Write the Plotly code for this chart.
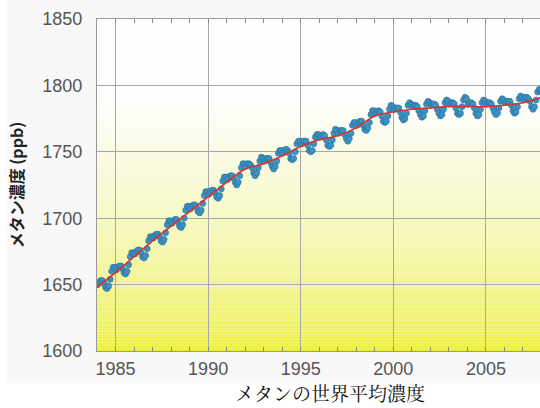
import plotly.graph_objects as go

# ---------------- data ----------------
years = list(range(1984, 2008))
months = list(range(1, 13))

ch4_monthly = {
    1984: [1650, 1652, 1653, 1653, 1651, 1648, 1647, 1649, 1654, 1660, 1663, 1663],
    1985: [1661, 1663, 1664, 1664, 1662, 1659, 1658, 1660, 1665, 1671, 1674, 1674],
    1986: [1673, 1675, 1676, 1676, 1674, 1671, 1670, 1672, 1677, 1683, 1686, 1686],
    1987: [1685, 1687, 1688, 1688, 1686, 1683, 1682, 1684, 1689, 1695, 1698, 1698],
    1988: [1696, 1698, 1699, 1699, 1697, 1694, 1693, 1695, 1700, 1706, 1709, 1709],
    1989: [1707, 1709, 1710, 1710, 1708, 1705, 1704, 1706, 1711, 1717, 1720, 1720],
    1990: [1718, 1720, 1721, 1721, 1719, 1716, 1715, 1717, 1722, 1728, 1731, 1731],
    1991: [1729, 1731, 1732, 1732, 1730, 1727, 1725, 1727, 1732, 1738, 1741, 1741],
    1992: [1739, 1741, 1741, 1740, 1738, 1734, 1732, 1734, 1738, 1743, 1746, 1745],
    1993: [1743, 1745, 1745, 1745, 1742, 1739, 1737, 1739, 1743, 1749, 1751, 1751],
    1994: [1749, 1751, 1752, 1751, 1749, 1745, 1744, 1745, 1750, 1756, 1758, 1758],
    1995: [1756, 1758, 1758, 1758, 1755, 1751, 1750, 1751, 1756, 1761, 1763, 1763],
    1996: [1761, 1762, 1763, 1762, 1759, 1755, 1754, 1755, 1759, 1764, 1767, 1766],
    1997: [1764, 1766, 1766, 1766, 1763, 1760, 1758, 1760, 1764, 1770, 1772, 1772],
    1998: [1770, 1772, 1773, 1773, 1770, 1767, 1766, 1768, 1772, 1778, 1781, 1781],
    1999: [1779, 1780, 1781, 1780, 1777, 1773, 1772, 1773, 1777, 1782, 1785, 1784],
    2000: [1782, 1783, 1783, 1783, 1780, 1776, 1774, 1775, 1779, 1785, 1787, 1786],
    2001: [1784, 1785, 1785, 1784, 1781, 1778, 1776, 1777, 1781, 1786, 1788, 1787],
    2002: [1785, 1786, 1786, 1785, 1782, 1779, 1777, 1778, 1782, 1787, 1789, 1788],
    2003: [1786, 1787, 1787, 1786, 1783, 1779, 1778, 1779, 1784, 1789, 1791, 1790],
    2004: [1786, 1787, 1787, 1786, 1783, 1779, 1777, 1778, 1782, 1787, 1789, 1788],
    2005: [1786, 1787, 1787, 1786, 1783, 1780, 1778, 1779, 1783, 1788, 1790, 1789],
    2006: [1787, 1788, 1788, 1788, 1785, 1781, 1779, 1780, 1784, 1790, 1792, 1791],
    2007: [1789, 1791, 1791, 1790, 1788, 1784, 1782, 1784, 1789, 1795, 1797, 1797],
}

trend_years = list(range(1984, 2009))
trend_values = [1648, 1659, 1671, 1683, 1694, 1705, 1716, 1727, 1737, 1741,
                1747, 1754, 1759, 1762, 1768, 1777, 1780, 1782, 1783, 1784,
                1784, 1784, 1785, 1787, 1791]

x_ticks = [1985, 1990, 1995, 2000, 2005]
x_tick_labels = ["1985", "1990", "1995", "2000", "2005"]
y_ticks = [1600, 1650, 1700, 1750, 1800, 1850]

y_title = "メタン濃度 (ppb)"
caption = "メタンの世界平均濃度"

# ---------------- build ----------------
mx, my = [], []
for yr in years:
    for m, v in zip(months, ch4_monthly[yr]):
        mx.append(yr + (m - 0.5) / 12)
        my.append(v)

fig = go.Figure()

fig.add_trace(go.Scatter(
    x=mx, y=my, mode="markers",
    marker=dict(size=6, color="#3a93c3", line=dict(width=0.6, color="#2b6f98")),
    hoverinfo="skip", showlegend=False,
))
fig.add_trace(go.Scatter(
    x=trend_years, y=trend_values, mode="lines",
    line=dict(color="#e0302a", width=1.6, shape="spline"),
    showlegend=False,
))

# figure background (light grey panel)
shapes = [dict(type="rect", xref="paper", yref="paper",
               x0=-0.205, x1=1.0, y0=-0.097, y1=1.06,
               fillcolor="#f8f8f8", line=dict(width=0), layer="below")]
# yellow -> white gradient in plot area
n = 90
lo, hi = 1600, 1790
for i in range(n):
    a = lo + (hi - lo) * i / n
    b = lo + (hi - lo) * (i + 1) / n
    t = ((a + b) / 2 - lo) / (hi - lo)
    r = int(238 + (254 - 238) * t ** 0.8)
    g = int(241 + (254 - 241) * t ** 0.8)
    bl = int(36 + (253 - 36) * t ** 0.5)
    shapes.append(dict(type="rect", xref="x domain", yref="y",
                       x0=0, x1=1, y0=a, y1=b,
                       fillcolor=f"rgb({r},{g},{bl})", line=dict(width=0), layer="below"))
shapes.append(dict(type="rect", xref="x domain", yref="y",
                   x0=0, x1=1, y0=hi, y1=1850,
                   fillcolor="#fefefd", line=dict(width=0), layer="below"))

fig.update_layout(
    width=540, height=408,
    margin=dict(l=97, r=0, t=19, b=57, autoexpand=False),
    paper_bgcolor="white", plot_bgcolor="white",
    shapes=shapes,
    font=dict(family="Liberation Sans, Arial, sans-serif", color="#555"),
    annotations=[dict(
        text=caption, xref="paper", yref="paper", x=0.526, y=-0.1717,
        xanchor="center", yanchor="bottom", showarrow=False,
        font=dict(family="Noto Serif CJK JP, Noto Sans CJK JP, serif", size=19, color="#111"),
    )],
)

fig.update_xaxes(
    range=[1984.0, 2007.92], automargin=False,
    tickvals=x_ticks, ticktext=x_tick_labels,
    tickfont=dict(size=18, color="#555"),
    showgrid=True, gridcolor="#a8a8a8", gridwidth=1.2,
    showline=True, linecolor="#999", linewidth=1.2, mirror="ticks",
    ticks="inside", ticklen=0, tickcolor="#888",
    minor=dict(dtick=1, tick0=1984, ticks="inside", ticklen=4, tickcolor="#888", showgrid=False),
    ticklabelstandoff=1,
    zeroline=False,
)
fig.update_yaxes(
    range=[1600, 1850], automargin=False,
    tickvals=y_ticks,
    tickfont=dict(size=18, color="#555"),
    showgrid=True, gridcolor="#a8a8a8", gridwidth=1.2,
    showline=True, linecolor="#999", linewidth=1.2,
    ticks="", ticklabelstandoff=10,
    title=dict(text=y_title, standoff=14,
               font=dict(family="Noto Sans CJK JP, sans-serif", size=16, color="#222", weight="bold")),
    zeroline=False,
)

fig.write_html(
    "out.html",
    config={"displayModeBar": False},
    post_script="document.body.style.margin='0';document.body.style.overflow='hidden';",
)
